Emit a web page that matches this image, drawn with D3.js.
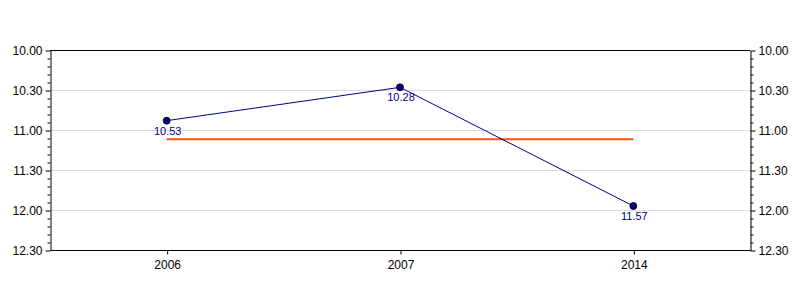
<!DOCTYPE html>
<html>
<head>
<meta charset="utf-8">
<script src="https://cdn.jsdelivr.net/npm/d3@7"></script>
<style>
  body { margin: 0; background: #fff; }
  text { font-family: "Liberation Sans", Arial, sans-serif; }
</style>
</head>
<body>
<svg id="vis" width="800" height="300"></svg>
<script>
const svg = d3.select("#vis");

// times are min.sec
const years = ["2006", "2007", "2014"];
const times = ["10.53", "10.28", "11.57"];
const averageTime = "11.07";
const yTickLabels = ["10.00", "10.30", "11.00", "11.30", "12.00", "12.30"];

const LINE_COLOR = "#00008b";
const AVG_COLOR = "#ff4f14";
const margin = {left: 50, right: 50, top: 50, bottom: 50};
const W = 800, H = 300;

function toSeconds(s) {
  const parts = s.split(".");
  return (+parts[0]) * 60 + (+parts[1]);
}

const x = d3.scalePoint().domain(years).range([margin.left, W - margin.right]).padding(0.5);
const y = d3.scaleLinear()
  .domain([toSeconds(yTickLabels[0]), toSeconds(yTickLabels[yTickLabels.length - 1])])
  .range([margin.top, H - margin.bottom]);

const majorVals = yTickLabels.map(toSeconds);
const minorVals = d3.range(y.domain()[0], y.domain()[1] + 1, 6).filter(v => !majorVals.includes(v));

// grid
svg.append("g").selectAll("line").data(majorVals.slice(1, -1)).join("line")
  .attr("x1", margin.left).attr("x2", W - margin.right)
  .attr("y1", d => Math.round(y(d)) + 0.5).attr("y2", d => Math.round(y(d)) + 0.5)
  .attr("stroke", "#dcdcdc").attr("stroke-width", 1);

// frame top
svg.append("line")
  .attr("x1", margin.left).attr("x2", W - margin.right)
  .attr("y1", margin.top + 0.5).attr("y2", margin.top + 0.5)
  .attr("stroke", "#000");

function yAxis(gen, xpos) {
  const g = svg.append("g").attr("transform", `translate(${xpos + 0.5},0.5)`);
  g.call(gen(y).tickValues(minorVals).tickSize(3).tickFormat(""));
  g.select(".domain").remove();
  const g2 = svg.append("g").attr("transform", `translate(${xpos + 0.5},0.5)`);
  g2.call(gen(y).tickValues(majorVals).tickSize(5).tickSizeOuter(0).tickPadding(3)
      .tickFormat((d, i) => yTickLabels[i]));
  g2.selectAll("text").attr("font-size", 12).attr("font-family", "Liberation Sans, Arial, sans-serif").attr("fill", "#000");
  g2.select(".domain").attr("stroke", "#000");
}
yAxis(d3.axisLeft, margin.left);
yAxis(d3.axisRight, W - margin.right);

// x axis
const gx = svg.append("g").attr("transform", `translate(0.5,${H - margin.bottom + 0.5})`)
  .call(d3.axisBottom(x).tickSize(4).tickSizeOuter(0).tickPadding(6));
gx.select(".domain").attr("d", `M${margin.left},0H${W - margin.right}`).attr("stroke", "#000");
gx.selectAll("text").attr("font-size", 12).attr("font-family", "Liberation Sans, Arial, sans-serif").attr("fill", "#000");

// average line
svg.append("line")
  .attr("x1", x(years[0])).attr("x2", x(years[years.length - 1]))
  .attr("y1", y(toSeconds(averageTime))).attr("y2", y(toSeconds(averageTime)))
  .attr("stroke", AVG_COLOR).attr("stroke-width", 2);

const pts = years.map((yr, i) => ({year: yr, label: times[i], v: toSeconds(times[i])}));

svg.append("path").datum(pts)
  .attr("fill", "none").attr("stroke", LINE_COLOR).attr("stroke-width", 1)
  .attr("d", d3.line().x(d => x(d.year)).y(d => y(d.v)));

svg.selectAll(".points").data(pts).join("circle")
  .attr("class", "points")
  .attr("cx", d => x(d.year)).attr("cy", d => y(d.v))
  .attr("r", 3.5)
  .attr("fill", "#000080").attr("stroke", "#000").attr("stroke-width", 0.8);

svg.selectAll(".labels").data(pts).join("text")
  .attr("class", "labels")
  .attr("x", d => x(d.year) + 1).attr("y", d => y(d.v) + 14)
  .attr("text-anchor", "middle")
  .attr("font-size", 11)
  .attr("fill", LINE_COLOR)
  .text(d => d.label);
</script>
</body>
</html>
